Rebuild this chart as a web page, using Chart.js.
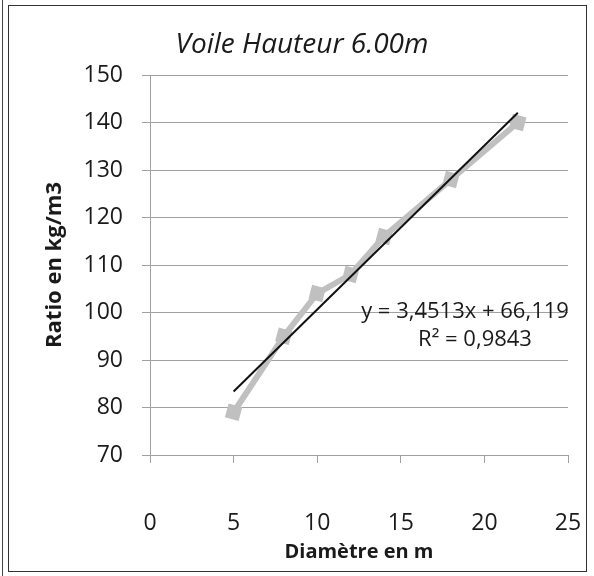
<!DOCTYPE html>
<html>
<head>
<meta charset="utf-8">
<title>Voile Hauteur 6.00m</title>
<script src="https://cdn.jsdelivr.net/npm/chart.js@4.4.1/dist/chart.umd.min.js"></script>
<style>
  html, body { margin: 0; padding: 0; background: #fff; }
  #wrap { position: relative; width: 594px; height: 576px; overflow: hidden; }
  #ratioChart { position: absolute; left: 0; top: 0; }
  .cadre { position: absolute; left: 8px; top: 5px; width: 579px; height: 567px; border: 1.5px solid #333; box-sizing: border-box; }
  .filet { position: absolute; left: 2px; top: 0; width: 1px; height: 576px; background: #444; }
</style>
</head>
<body>
<div id="wrap">
  <canvas id="ratioChart" width="594" height="576"></canvas>
  <div class="filet"></div>
  <div class="cadre"></div>
</div>
<script>
// Mesures : diamètre (m) et ratio (kg/m3)
var diametres = [5, 8, 10, 12, 14, 18, 22];
var ratios = [79, 95, 104, 108, 116, 128, 140];

// Courbe de tendance linéaire
var pente = 3.4513;
var ordonnee = 66.119;
var r2 = 0.9843;
var tendanceX = [5, 22];

var xTicks = [0, 5, 10, 15, 20, 25];
var yTicks = [70, 80, 90, 100, 110, 120, 130, 140, 150];

function virgule(v) {
    return v.toString().replace('.', ',');
}

var police = "'Open Sans', 'DejaVu Sans', sans-serif";

// texte de l'équation à droite de la courbe
var equationPlugin = {
    id: 'equation',
    afterDatasetsDraw: function(chart) {
        var ctx = chart.ctx;
        var x = chart.scales.x;
        var y = chart.scales.y;
        ctx.save();
        ctx.fillStyle = '#1a1a1a';
        ctx.font = '22px ' + police;
        ctx.textAlign = 'center';
        ctx.textBaseline = 'middle';
        ctx.fillText('y = ' + virgule(pente) + 'x + ' + virgule(ordonnee), x.getPixelForValue(18.84), y.getPixelForValue(100.1));
        ctx.fillText('R² = ' + virgule(r2), x.getPixelForValue(19.44), y.getPixelForValue(94.2));
        ctx.restore();
    }
};

var canvas = document.getElementById('ratioChart');

var chart = new Chart(canvas, {
    type: 'scatter',
    data: {
        datasets: [{
            label: 'Ratio',
            data: diametres.map((d, i) => ({ x: d, y: ratios[i] })),
            showLine: true,
            borderColor: '#c0c0c0',
            backgroundColor: '#c0c0c0',
            borderWidth: 6,
            pointStyle: 'rect',
            pointRadius: 10,
            pointRotation: 15,
            pointBorderWidth: 0,
            order: 2
        }, {
            label: 'Linéaire (Ratio)',
            data: tendanceX.map(d => ({ x: d, y: pente * d + ordonnee })),
            showLine: true,
            borderColor: '#111',
            borderWidth: 2,
            pointRadius: 0,
            order: 1
        }]
    },
    options: {
        responsive: false,
        animation: false,
        layout: {
            padding: { left: 10, right: 0, top: 28, bottom: 6 }
        },
        scales: {
            x: {
                type: 'linear',
                min: 0,
                max: 25,
                afterBuildTicks: function(scale) {
                    scale.ticks = xTicks.map(v => ({ value: v }));
                },
                afterFit: function(scale) {
                    scale.height = 576 - 455 - 6;
                    scale.paddingLeft = 0;
                    scale.paddingRight = 26;
                },
                grid: {
                    drawOnChartArea: false,
                    tickLength: 8,
                    color: '#a0a0a0'
                },
                border: { color: '#a0a0a0' },
                ticks: {
                    padding: 47,
                    color: '#1a1a1a',
                    font: { family: police, size: 23 }
                },
                title: {
                    display: true,
                    text: 'Diamètre en m',
                    color: '#1a1a1a',
                    padding: { top: 0, bottom: 6 },
                    font: { family: police, size: 20, weight: 'bold' }
                }
            },
            y: {
                min: 70,
                max: 150,
                afterBuildTicks: function(scale) {
                    scale.ticks = yTicks.map(v => ({ value: v }));
                },
                afterFit: function(scale) {
                    scale.width = 150 - 10;
                },
                grid: {
                    tickLength: 8,
                    color: '#a0a0a0'
                },
                border: { color: '#a0a0a0' },
                ticks: {
                    padding: 19,
                    color: '#1a1a1a',
                    font: { family: police, size: 23 }
                },
                title: {
                    display: true,
                    text: 'Ratio en kg/m3',
                    color: '#1a1a1a',
                    padding: { top: 32, bottom: 0 },
                    font: { family: police, size: 22, weight: 'bold' }
                }
            }
        },
        plugins: {
            legend: { display: false },
            tooltip: { enabled: false },
            title: {
                display: true,
                text: 'Voile Hauteur 6.00m',
                color: '#1a1a1a',
                padding: { top: 0, bottom: 13.4 },
                font: { family: police, size: 28, style: 'italic', weight: 'normal' }
            }
        }
    },
    plugins: [equationPlugin]
});
</script>
</body>
</html>
